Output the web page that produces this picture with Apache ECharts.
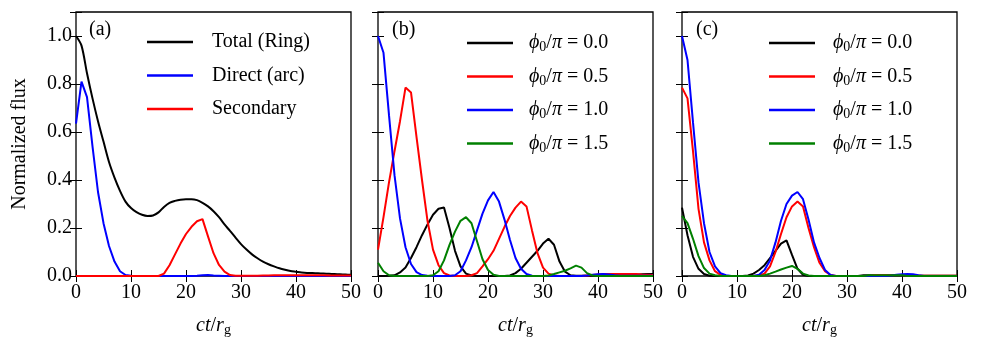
<!DOCTYPE html>
<html><head><meta charset="utf-8">
<script src="https://cdn.jsdelivr.net/npm/echarts@6/dist/echarts.min.js"></script>
<style>html,body{margin:0;padding:0;background:#fff}#c{width:981px;height:348px}</style>
</head><body><div id="c"></div>
<script>
const ct = [0,1,2,3,4,5,6,7,8,9,10,11,12,13,14,15,16,17,18,19,20,21,22,23,24,25,26,27,28,29,30,31,32,33,34,35,36,37,38,39,40,41,42,43,44,45,46,47,48,49,50];
const xTicks = [0,10,20,30,40,50];
const yTicks = [0.0,0.2,0.4,0.6,0.8,1.0];

// Panel (a)
const totalRing = [1.0,0.96,0.845,0.74,0.645,0.56,0.475,0.41,0.355,0.31,0.283,0.266,0.255,0.25,0.252,0.265,0.288,0.305,0.313,0.318,0.32,0.32,0.316,0.305,0.29,0.27,0.245,0.215,0.188,0.16,0.133,0.11,0.09,0.074,0.06,0.049,0.04,0.032,0.026,0.021,0.018,0.015,0.013,0.012,0.011,0.01,0.009,0.008,0.007,0.006,0.005];
const directArc = [0.635,0.81,0.745,0.54,0.35,0.22,0.125,0.06,0.02,0.004,0.001,0,0,0,0,0,0,0,0,0,0,0,0.001,0.003,0.004,0.002,0.001,0,0,0,0,0,0,0,0,0,0,0,0,0,0,0,0,0,0,0,0,0,0,0,0];
const secondary = [0,0,0,0,0,0,0,0,0,0,0,0,0,0,0,0,0.01,0.045,0.09,0.135,0.175,0.205,0.228,0.237,0.165,0.095,0.046,0.018,0.004,0.001,0.001,0.001,0.001,0.001,0.002,0.002,0.003,0.003,0.003,0.003,0.003,0.003,0.003,0.003,0.003,0.003,0.002,0.002,0.002,0.002,0.002];

// Panel (b)
const b00 = [0,0,0.001,0.003,0.015,0.035,0.075,0.12,0.17,0.215,0.255,0.28,0.285,0.2,0.105,0.04,0.01,0.002,0,0,0,0,0,0,0.002,0.012,0.03,0.055,0.08,0.105,0.135,0.155,0.13,0.06,0.018,0.003,0.001,0.001,0.001,0.001,0.001,0.001,0.001,0.001,0.001,0.001,0.003,0.005,0.007,0.008,0.008];
const b05 = [0.11,0.245,0.39,0.52,0.645,0.785,0.765,0.58,0.40,0.23,0.11,0.045,0.012,0.002,0,0,0,0.003,0.012,0.04,0.07,0.105,0.155,0.205,0.25,0.285,0.31,0.29,0.19,0.095,0.035,0.01,0.002,0,0,0,0,0,0.002,0.004,0.006,0.008,0.008,0.008,0.008,0.008,0.008,0.008,0.006,0.005,0.004];
const b10 = [1.0,0.93,0.67,0.42,0.24,0.12,0.05,0.016,0.004,0.001,0,0,0,0,0.003,0.02,0.065,0.12,0.19,0.26,0.315,0.35,0.31,0.235,0.15,0.075,0.03,0.008,0.001,0,0,0,0,0,0,0,0,0,0.002,0.005,0.007,0.008,0.006,0.003,0.001,0.001,0.001,0.001,0.001,0.001,0.001];
const b15 = [0.055,0.02,0.003,0,0,0,0,0,0,0,0.003,0.02,0.065,0.13,0.185,0.23,0.245,0.22,0.145,0.07,0.025,0.005,0,0,0,0,0,0,0,0,0,0.002,0.008,0.015,0.022,0.032,0.043,0.035,0.012,0.002,0,0,0,0,0,0,0,0,0,0,0];

// Panel (c)
const c00 = [0.285,0.17,0.08,0.03,0.008,0.001,0,0,0,0,0,0,0.002,0.01,0.025,0.045,0.075,0.105,0.135,0.148,0.088,0.03,0.005,0,0,0,0,0,0,0,0,0,0,0.003,0.003,0.003,0.003,0.003,0.003,0.003,0.003,0.001,0.001,0.001,0.001,0.001,0.001,0.001,0.001,0.001,0.001];
const c05 = [0.785,0.74,0.52,0.28,0.14,0.065,0.02,0.005,0.001,0,0,0,0,0,0.002,0.01,0.04,0.10,0.175,0.245,0.29,0.31,0.29,0.2,0.12,0.055,0.02,0.004,0,0,0,0,0,0,0,0.004,0.004,0.004,0.004,0.004,0.004,0.001,0.001,0.001,0.001,0.001,0.001,0.001,0.001,0.001,0.001];
const c10 = [1.0,0.9,0.64,0.39,0.22,0.10,0.04,0.012,0.003,0,0,0,0,0,0.005,0.025,0.065,0.14,0.23,0.30,0.335,0.35,0.32,0.235,0.14,0.075,0.025,0.004,0,0,0,0,0,0,0,0,0,0,0.002,0.005,0.007,0.008,0.007,0.003,0,0,0,0,0,0,0];
const c15 = [0.25,0.22,0.155,0.083,0.033,0.01,0.003,0,0,0,0,0,0,0,0,0.003,0.01,0.018,0.027,0.035,0.042,0.03,0.01,0.002,0,0,0,0,0,0,0,0,0,0,0.003,0.003,0.003,0.003,0.003,0.003,0.003,0,0,0,0,0,0,0,0,0,0];

const FONT = 'Liberation Serif';
const pair = arr => ct.map((x,i)=>[x,arr[i]]);
const phiLabel = {b00:'0.0',b05:'0.5',b10:'1.0',b15:'1.5',c00:'0.0',c05:'0.5',c10:'1.0',c15:'1.5'};
const rich = {
  i:{fontFamily:FONT,fontStyle:'italic',fontSize:20,color:'#000'},
  n:{fontFamily:FONT,fontSize:20,color:'#000'},
  s:{fontFamily:FONT,fontSize:14,color:'#000',padding:[9,0,0,0]}
};
const lefts = [76,378,682];
const grids = lefts.map(l=>({left:l,top:12,width:275,height:264,show:true,borderColor:'#000',borderWidth:1.3,backgroundColor:'transparent'}));
const xAxes = [], yAxes = [];
lefts.forEach((l,g)=>{
  xAxes.push({gridIndex:g,type:'value',min:0,max:50,interval:10,position:'bottom',
    axisLine:{show:false},axisTick:{inside:true,length:6,lineStyle:{color:'#000',width:1}},
    splitLine:{show:false},
    axisLabel:{color:'#000',fontFamily:FONT,fontSize:20,margin:7,formatter:v=>String(v)},
    name:'{i|ct}{n|/}{i|r}{s|g}',nameLocation:'middle',nameGap:38,nameTextStyle:{rich:rich}});
  xAxes.push({gridIndex:g,type:'value',min:0,max:50,interval:10,position:'top',
    axisLine:{show:false},axisTick:{inside:true,length:6,lineStyle:{color:'#000',width:1}},
    splitLine:{show:false},axisLabel:{show:false}});
  yAxes.push({gridIndex:g,type:'value',min:0,max:1.1,interval:0.2,position:'left',
    axisLine:{show:false},axisTick:{inside:true,length:6,lineStyle:{color:'#000',width:1}},
    splitLine:{show:false},
    axisLabel:{show:g===0,color:'#000',fontFamily:FONT,fontSize:20,margin:4,
      formatter:v=>(Math.abs(v*5-Math.round(v*5))<1e-6? v.toFixed(1):'')},
    name:g===0?'Normalized flux':'',nameLocation:'middle',nameGap:46,
    nameTextStyle:{color:'#000',fontFamily:FONT,fontSize:20}});
  yAxes.push({gridIndex:g,type:'value',min:0,max:1.1,interval:0.2,position:'right',
    axisLine:{show:false},axisTick:{inside:true,length:6,lineStyle:{color:'#000',width:1}},
    splitLine:{show:false},axisLabel:{show:false}});
});
function mk(name,arr,color,g,smooth){
  return {name:name,type:'line',xAxisIndex:2*g,yAxisIndex:2*g,data:pair(arr),
    symbol:'none',showSymbol:false,smooth:smooth||false,lineStyle:{color:color,width:2},itemStyle:{color:color},
    animation:false,clip:true};
}
const series = [
  mk('Total (Ring)',totalRing,'#000000',0,0.3),
  mk('Direct (arc)',directArc,'#0000ff',0),
  mk('Secondary',secondary,'#ff0000',0),
  mk('b00',b00,'#000000',1),
  mk('b05',b05,'#ff0000',1),
  mk('b10',b10,'#0000ff',1),
  mk('b15',b15,'#008000',1),
  mk('c00',c00,'#000000',2),
  mk('c05',c05,'#ff0000',2),
  mk('c10',c10,'#0000ff',2),
  mk('c15',c15,'#008000',2)
];
const legBase = {orient:'vertical',padding:0,itemWidth:46,itemHeight:2.5,icon:'rect',selectedMode:false,
  textStyle:{color:'#000',fontFamily:FONT,fontSize:20,lineHeight:22,rich:rich}};
const phiFmt = n => '{i|ϕ}{s|0}{n|/}{i|π}{n| = '+phiLabel[n]+'}';
const legends = [
  Object.assign({},legBase,{left:147,top:31,itemGap:11.5,data:['Total (Ring)','Direct (arc)','Secondary'],
    textStyle:Object.assign({},legBase.textStyle,{padding:[0,0,0,14]})}),
  Object.assign({},legBase,{left:467,top:32,itemGap:11,data:['b00','b05','b10','b15'],formatter:phiFmt,
    textStyle:Object.assign({},legBase.textStyle,{padding:[0,0,0,11]})}),
  Object.assign({},legBase,{left:769,top:32,itemGap:11,data:['c00','c05','c10','c15'],formatter:phiFmt,
    textStyle:Object.assign({},legBase.textStyle,{padding:[0,0,0,13]})})
];
const titles = [['(a)',89],['(b)',392],['(c)',696]].map(t=>({text:t[0],left:t[1],top:20,padding:0,
  textStyle:{color:'#000',fontFamily:FONT,fontSize:20,fontWeight:'normal'}}));
const chart = echarts.init(document.getElementById('c'),null,{renderer:'canvas'});
chart.setOption({animation:false,backgroundColor:'#fff',textStyle:{fontFamily:FONT},
  title:titles,grid:grids,xAxis:xAxes,yAxis:yAxes,legend:legends,series:series});
</script></body></html>
